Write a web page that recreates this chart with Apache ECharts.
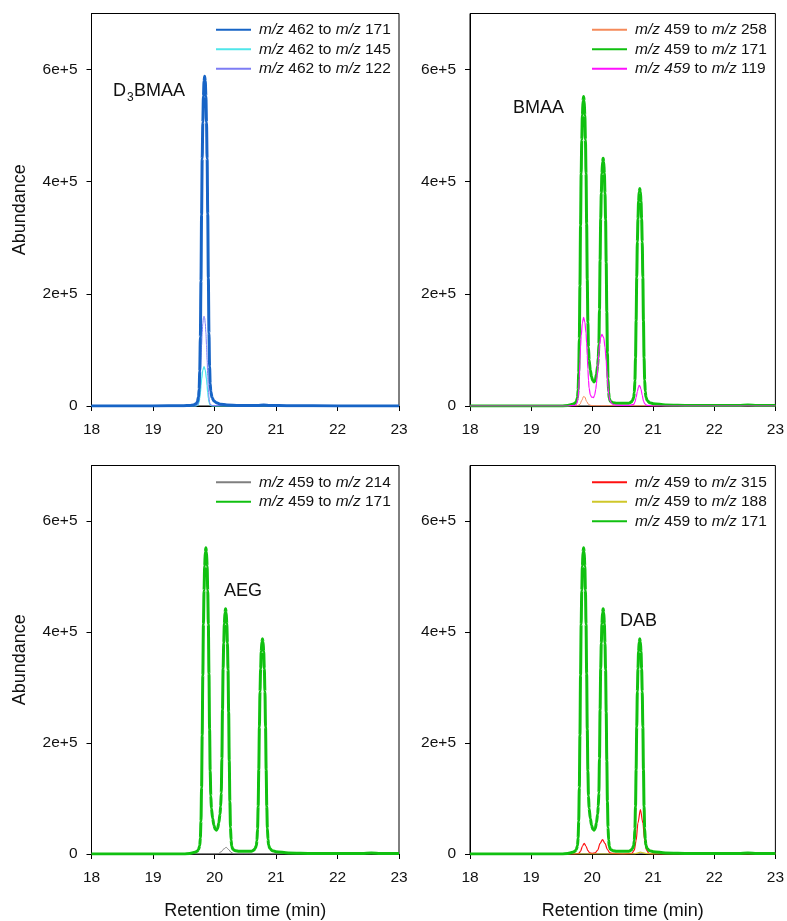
<!DOCTYPE html>
<html><head><meta charset="utf-8">
<script src="https://cdn.jsdelivr.net/npm/echarts@6/dist/echarts.min.js"></script>
<style>html,body{margin:0;padding:0;background:#fff}#c{width:787px;height:921px}</style>
</head><body><div id="c"></div>
<script>
// Values in units of 1e5 abundance, x = retention time (min)
const xTicks = [18, 19, 20, 21, 22, 23];
const yTicks = [0, 2, 4, 6];

// Panel 1: D3BMAA
const m462_171 = [[18,0],[19,0],[19.5,0.005],[19.6,0.01],[19.66,0.02],[19.70,0.04],[19.72,0.07],[19.74,0.16],[19.75,0.30],[19.76,0.62],[19.77,1.23],[19.78,2.23],[19.79,3.41],[19.80,4.41],[19.81,5.06],[19.82,5.53],[19.83,5.79],[19.84,5.88],[19.85,5.79],[19.86,5.53],[19.87,5.06],[19.88,4.41],[19.89,3.43],[19.90,2.28],[19.91,1.30],[19.92,0.70],[19.93,0.40],[19.94,0.26],[19.96,0.15],[19.99,0.09],[20.03,0.06],[20.1,0.03],[20.2,0.02],[20.4,0.01],[20.7,0.01],[20.8,0.02],[20.9,0.01],[21.2,0.005],[22,0],[23,0]];
const m462_145 = [[18,0],[19.7,0],[19.73,0.015],[19.75,0.07],[19.76,0.14],[19.77,0.24],[19.78,0.36],[19.79,0.48],[19.81,0.64],[19.83,0.70],[19.85,0.64],[19.87,0.48],[19.88,0.36],[19.89,0.24],[19.90,0.14],[19.91,0.07],[19.93,0.015],[19.96,0],[23,0]];
const m462_122 = [[18,0],[19.68,0],[19.71,0.01],[19.73,0.03],[19.74,0.07],[19.75,0.16],[19.76,0.32],[19.77,0.54],[19.78,0.82],[19.79,1.09],[19.80,1.31],[19.81,1.47],[19.82,1.57],[19.83,1.60],[19.84,1.57],[19.85,1.47],[19.86,1.31],[19.87,1.09],[19.88,0.82],[19.89,0.54],[19.90,0.32],[19.91,0.16],[19.92,0.07],[19.93,0.03],[19.96,0.01],[20.3,0.005],[23,0]];

// Panels 2-4: m/z 459 to m/z 171 (same trace)
const m459_171 = [[18,0],[19,0],[19.5,0],[19.6,0.01],[19.68,0.03],[19.72,0.05],[19.74,0.08],[19.76,0.15],[19.77,0.29],[19.78,0.59],[19.79,1.20],[19.80,2.14],[19.81,3.22],[19.82,4.14],[19.83,4.75],[19.84,5.19],[19.85,5.44],[19.86,5.52],[19.87,5.44],[19.88,5.19],[19.89,4.75],[19.90,4.14],[19.91,3.25],[19.92,2.25],[19.93,1.50],[19.94,1.05],[19.95,0.82],[19.97,0.64],[19.99,0.52],[20.01,0.45],[20.03,0.43],[20.05,0.46],[20.07,0.56],[20.09,0.72],[20.10,0.86],[20.11,1.10],[20.12,1.72],[20.13,2.60],[20.14,3.34],[20.15,3.80],[20.16,4.15],[20.17,4.35],[20.18,4.42],[20.19,4.35],[20.20,4.15],[20.21,3.80],[20.22,3.32],[20.23,2.56],[20.24,1.68],[20.25,0.95],[20.26,0.48],[20.27,0.25],[20.28,0.14],[20.30,0.08],[20.34,0.06],[20.40,0.05],[20.50,0.05],[20.60,0.05],[20.64,0.07],[20.66,0.10],[20.68,0.15],[20.69,0.24],[20.70,0.45],[20.71,0.86],[20.72,1.52],[20.73,2.29],[20.74,2.93],[20.75,3.34],[20.76,3.65],[20.77,3.82],[20.78,3.88],[20.79,3.82],[20.80,3.65],[20.81,3.34],[20.82,2.93],[20.83,2.29],[20.84,1.52],[20.85,0.86],[20.86,0.46],[20.87,0.26],[20.88,0.16],[20.90,0.10],[20.94,0.06],[21.0,0.04],[21.2,0.02],[21.6,0.01],[22.0,0.01],[22.4,0.01],[22.55,0.02],[22.7,0.01],[23,0.01]];

// Panel 2: BMAA
const m459_258 = [[18,0],[19.5,0],[19.76,0.005],[19.80,0.03],[19.83,0.10],[19.86,0.17],[19.88,0.16],[19.91,0.08],[19.94,0.03],[19.98,0.01],[20.05,0.005],[23,0]];
const m459_119 = [[18,0],[19.6,0],[19.72,0.01],[19.75,0.04],[19.77,0.15],[19.78,0.28],[19.79,0.50],[19.80,0.80],[19.81,1.05],[19.82,1.25],[19.84,1.48],[19.86,1.58],[19.88,1.50],[19.90,1.30],[19.91,1.12],[19.92,0.90],[19.93,0.66],[19.94,0.46],[19.95,0.32],[19.97,0.20],[19.99,0.16],[20.02,0.15],[20.04,0.19],[20.06,0.30],[20.07,0.40],[20.08,0.52],[20.09,0.65],[20.10,0.80],[20.11,0.95],[20.12,1.08],[20.14,1.22],[20.16,1.28],[20.17,1.28],[20.19,1.22],[20.21,1.05],[20.23,0.80],[20.24,0.64],[20.25,0.48],[20.26,0.33],[20.27,0.22],[20.29,0.10],[20.32,0.04],[20.38,0.015],[20.6,0.01],[20.68,0.03],[20.70,0.07],[20.72,0.15],[20.74,0.26],[20.76,0.34],[20.77,0.37],[20.78,0.36],[20.80,0.30],[20.82,0.19],[20.84,0.09],[20.86,0.04],[20.90,0.01],[21.0,0],[23,0]];

// Panel 3: AEG
const m459_214 = [[18,0],[20.0,0],[20.06,0.005],[20.11,0.04],[20.15,0.09],[20.19,0.12],[20.23,0.08],[20.27,0.03],[20.31,0.005],[20.4,0],[23,0]];

// Panel 4: DAB
const m459_315 = [[18,0],[19.7,0],[19.78,0.01],[19.81,0.05],[19.84,0.14],[19.87,0.19],[19.90,0.14],[19.93,0.06],[19.96,0.02],[20.00,0.01],[20.05,0.02],[20.09,0.07],[20.13,0.19],[20.17,0.26],[20.21,0.19],[20.25,0.08],[20.29,0.02],[20.33,0.01],[20.5,0],[20.65,0.01],[20.69,0.07],[20.72,0.24],[20.75,0.56],[20.79,0.80],[20.83,0.56],[20.86,0.24],[20.89,0.07],[20.93,0.01],[21.0,0],[23,0]];
const m459_188 = [[18,0],[20.68,0],[20.74,0.015],[20.79,0.035],[20.84,0.02],[20.9,0.005],[21,0],[23,0]];

const FONT = '"Liberation Sans", Arial, sans-serif';
const legendText = {
  p1_171: ['m/z', ' 462 to ', 'm/z', ' 171'],
  p1_145: ['m/z', ' 462 to ', 'm/z', ' 145'],
  p1_122: ['m/z', ' 462 to ', 'm/z', ' 122'],
  p2_258: ['m/z', ' 459 to ', 'm/z', ' 258'],
  p2_171: ['m/z', ' 459 to ', 'm/z', ' 171'],
  p2_119: ['m/z 459', ' to ', 'm/z', ' 119'],
  p3_214: ['m/z', ' 459 to ', 'm/z', ' 214'],
  p3_171: ['m/z', ' 459 to ', 'm/z', ' 171'],
  p4_315: ['m/z', ' 459 to ', 'm/z', ' 315'],
  p4_188: ['m/z', ' 459 to ', 'm/z', ' 188'],
  p4_171: ['m/z', ' 459 to ', 'm/z', ' 171']
};

const grids = [
  {left: 91.5, top: 13.5, width: 307.5, height: 392.5},
  {left: 470, top: 13.5, width: 307.5, height: 392.5},
  {left: 91.5, top: 465.5, width: 307.5, height: 391},
  {left: 470, top: 465.5, width: 307.5, height: 391}
].map(g => Object.assign(g, {show: true, borderColor: '#000', borderWidth: 1, backgroundColor: 'transparent', containLabel: false}));

function xAx(i) {
  return {
    type: 'value', gridIndex: i, min: 18, max: 23, interval: 1,
    axisLine: {show: true, onZero: false, lineStyle: {color: '#000', width: 1}},
    axisTick: {show: true, inside: false, length: 5, lineStyle: {color: '#000'}},
    axisLabel: {color: '#111', fontSize: 15.5, fontFamily: FONT, margin: 16},
    splitLine: {show: false},
    name: i >= 2 ? 'Retention time (min)' : '', nameLocation: 'middle', nameGap: 48,
    nameTextStyle: {fontSize: 18, color: '#111', fontFamily: FONT}
  };
}
function yAx(i) {
  return {
    type: 'value', gridIndex: i, min: 0, max: 7, interval: 1,
    axisLine: {show: true, lineStyle: {color: '#000', width: 1}},
    axisTick: {show: true, inside: false, length: 5, lineStyle: {color: '#000'}, customValues: yTicks},
    axisLabel: {color: '#111', fontSize: 15.5, fontFamily: FONT, margin: 14, customValues: yTicks,
      formatter: v => v === 0 ? '0' : v + 'e+5'},
    splitLine: {show: false},
    name: (i % 2 === 0) ? 'Abundance' : '', nameLocation: 'middle', nameGap: 62, nameRotate: 90,
    nameTextStyle: {fontSize: 18, color: '#111', fontFamily: FONT}
  };
}

function ser(name, data, gi, color, width, z) {
  return {
    name, type: 'line', xAxisIndex: gi, yAxisIndex: gi, data,
    showSymbol: false, symbol: 'none', smooth: 0.3, smoothMonotone: 'x',
    lineStyle: {color, width}, itemStyle: {color}, z: z || 2, silent: true
  };
}

const C = {
  blue: '#1764c6', cyan: '#4fe6ea', purple: '#7d7cf4', orange: '#f58a5a',
  green: '#10c010', magenta: '#ff10ff', grey: '#7f7f7f', red: '#ff1010', yellow: '#cfc72a'
};

const series = [
  ser('p1_145', m462_145, 0, C.cyan, 1.3, 2),
  ser('p1_122', m462_122, 0, C.purple, 1, 3),
  ser('p1_171', m462_171, 0, C.blue, 3, 4),
  ser('p2_258', m459_258, 1, C.orange, 1, 2),
  ser('p2_171', m459_171, 1, C.green, 3, 3),
  ser('p2_119', m459_119, 1, C.magenta, 1.2, 4),
  ser('p3_214', m459_214, 2, C.grey, 1, 2),
  ser('p3_171', m459_171, 2, C.green, 3, 3),
  ser('p4_315', m459_315, 3, C.red, 1.2, 2),
  ser('p4_188', m459_188, 3, C.yellow, 1.2, 3),
  ser('p4_171', m459_171, 3, C.green, 3, 4)
];

function legend(names, left, top) {
  return {
    data: names, orient: 'vertical', left, top, padding: 0, itemGap: 0,
    itemWidth: 35, itemHeight: 10,
    itemStyle: {opacity: 0},
    selectedMode: false,
    textStyle: {fontSize: 15.5, fontFamily: FONT, color: '#111', lineHeight: 19.5, padding: [0, 0, 0, 3],
      rich: {
        i: {fontStyle: 'italic', fontSize: 15.5, fontFamily: FONT, color: '#111', lineHeight: 19.5},
        n: {fontSize: 15.5, fontFamily: FONT, color: '#111', lineHeight: 19.5}
      }},
    formatter: name => {
      const t = legendText[name];
      return '{i|' + t[0] + '}{n|' + t[1] + '}{i|' + t[2] + '}{n|' + t[3] + '}';
    }
  };
}

const legends = [
  legend(['p1_171', 'p1_145', 'p1_122'], 215, 20),
  legend(['p2_258', 'p2_171', 'p2_119'], 591, 20),
  legend(['p3_214', 'p3_171'], 215, 472.5),
  legend(['p4_315', 'p4_188', 'p4_171'], 591, 472.5)
];

const ann = (text, x, y, size) => ({type: 'text', left: x, top: y,
  style: {text, fontSize: size || 18, fontFamily: FONT, fill: '#111'}});

const graphic = [
  ann('D', 113, 82),
  ann('3', 127, 92, 12),
  ann('BMAA', 134, 82),
  ann('BMAA', 513, 99),
  ann('AEG', 224, 582),
  ann('DAB', 620, 612)
];

const chart = echarts.init(document.getElementById('c'), null, {renderer: 'canvas'});
chart.setOption({
  animation: false,
  backgroundColor: '#fff',
  grid: grids,
  xAxis: [0, 1, 2, 3].map(xAx),
  yAxis: [0, 1, 2, 3].map(yAx),
  legend: legends,
  series,
  graphic
});
</script></body></html>
